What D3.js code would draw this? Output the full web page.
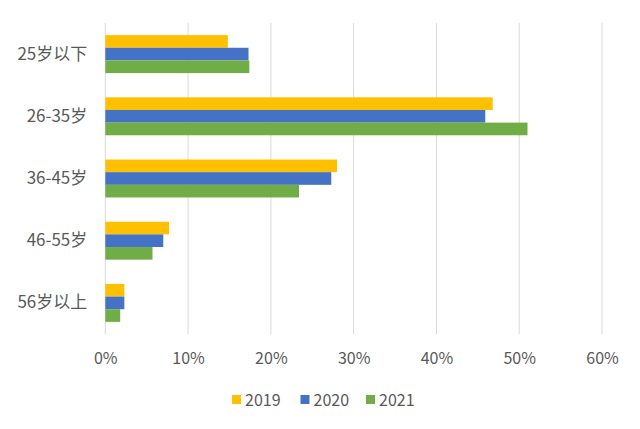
<!DOCTYPE html>
<html><head><meta charset="utf-8">
<script src="https://cdn.jsdelivr.net/npm/d3@7"></script>
<style>body{margin:0;background:#fff}</style>
</head><body>
<svg id="c" width="640" height="429"></svg>
<script>
const categories = ["25岁以下","26-35岁","36-45岁","46-55岁","56岁以上"];
const seriesNames = ["2019","2020","2021"];
const s2019 = [0.148, 0.468, 0.280, 0.077, 0.023];
const s2020 = [0.173, 0.459, 0.273, 0.070, 0.023];
const s2021 = [0.174, 0.510, 0.234, 0.057, 0.018];
const colors = ["#FFC000","#4472C4","#70AD47"];
const xTicks = [0,0.1,0.2,0.3,0.4,0.5,0.6];

const series = [s2019, s2020, s2021];
const svg = d3.select("#c");
const font = "'Noto Sans CJK SC', 'Noto Sans', sans-serif";
const pLeft = 105.3, pRight = 602, pTop = 23, pBottom = 334;

const x = d3.scaleLinear().domain([0,0.6]).range([pLeft,pRight]);
const y = d3.scaleBand().domain(categories).range([pTop,pBottom]).paddingInner(0.39).paddingOuter(0.195);
const y2 = d3.scaleBand().domain(seriesNames).range([0,y.bandwidth()]);

// gridlines
svg.append("g").selectAll("line").data(xTicks).join("line")
  .attr("x1",d=>x(d)).attr("x2",d=>x(d)).attr("y1",pTop).attr("y2",pBottom)
  .attr("stroke","#d9d9d9").attr("stroke-width",1);

// bars
categories.forEach((c,i)=>{
  seriesNames.forEach((s,j)=>{
    svg.append("rect")
      .attr("x",x(0)).attr("y",y(c)+y2(s))
      .attr("width",x(series[j][i])-x(0)).attr("height",y2.bandwidth())
      .attr("fill",colors[j]);
  });
});

// x axis
const xa = svg.append("g").attr("transform",`translate(0,${pBottom})`)
  .call(d3.axisBottom(x).tickValues(xTicks).tickFormat(d3.format(".0%")).tickSize(0).tickPadding(19));
xa.select(".domain").remove();
xa.selectAll("text").attr("fill","#595959").style("font-size","16px").style("font-family",font);

// y axis
const ya = svg.append("g").attr("transform",`translate(${pLeft},0)`)
  .call(d3.axisLeft(y).tickSize(0).tickPadding(18));
ya.select(".domain").remove();
ya.selectAll("text").attr("fill","#595959").style("font-size","17px").style("font-family",font);

// legend
const legX = [232, 300.5, 366];
const lg = svg.append("g");
seriesNames.forEach((s,j)=>{
  lg.append("rect").attr("x",legX[j]).attr("y",395).attr("width",9).attr("height",9).attr("fill",colors[j]);
  lg.append("text").attr("x",legX[j]+13).attr("y",400.5).attr("dy","0.35em")
    .attr("fill","#595959").style("font-size","16px").style("font-family",font).text(s);
});
</script>
</body></html>
